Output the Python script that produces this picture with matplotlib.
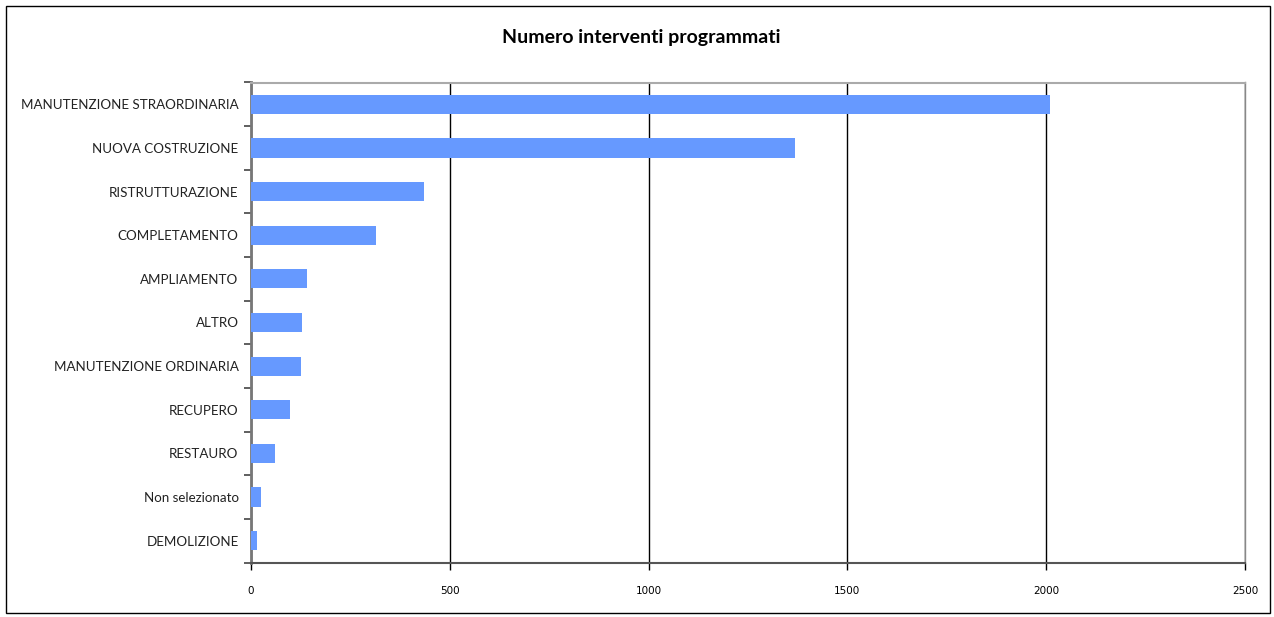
import matplotlib.pyplot as plt
import matplotlib

matplotlib.rcParams['font.family'] = ['Lato', 'DejaVu Sans']

categorie = [
    "MANUTENZIONE STRAORDINARIA",
    "NUOVA COSTRUZIONE",
    "RISTRUTTURAZIONE",
    "COMPLETAMENTO",
    "AMPLIAMENTO",
    "ALTRO",
    "MANUTENZIONE ORDINARIA",
    "RECUPERO",
    "RESTAURO",
    "Non selezionato",
    "DEMOLIZIONE",
]
interventi = [2010, 1368, 436, 314, 142, 129, 127, 98, 60, 25, 15]
x_ticks = [0, 500, 1000, 1500, 2000, 2500]

fig = plt.figure(figsize=(12.74, 6.17), dpi=100)
ax = fig.add_axes([251 / 1274, 1 - 562.5 / 617, 994 / 1274, 480 / 617])

# cornice esterna del grafico
fig.add_artist(plt.Rectangle((5.5 / 1274, 4.5 / 617), 1264 / 1274, 607 / 617,
                             transform=fig.transFigure, fill=False,
                             edgecolor='black', linewidth=1))

pos = list(range(len(categorie)))
ax.barh(pos, interventi, height=0.44, color='#6699FF', zorder=3)
ax.set_ylim(len(categorie) - 0.5, -0.5)
ax.set_xlim(0, 2500)

ax.set_xticks(x_ticks)
ax.set_xticklabels([str(v) for v in x_ticks], fontsize=7.5, family='DejaVu Sans')
ax.tick_params(axis='x', length=5, width=1, color='black', pad=12)
ax.grid(axis='x', color='black', linewidth=1, zorder=1)

# tacche sulle separazioni tra categorie, etichette al centro
ax.set_yticks([p - 0.5 for p in pos] + [len(categorie) - 0.5])
ax.set_yticklabels([])
ax.set_yticks(pos, minor=True)
ax.set_yticklabels(categorie, minor=True, fontsize=9.6, color='#222222')
ax.tick_params(axis='y', which='major', length=5, width=1.2, color='#444444')
ax.tick_params(axis='y', which='minor', length=0, pad=9)

ax.spines['left'].set_color('#777777')
ax.spines['left'].set_linewidth(2)
ax.spines['bottom'].set_color('#555555')
ax.spines['bottom'].set_linewidth(1.5)
ax.spines['top'].set_color('#aaaaaa')
ax.spines['top'].set_linewidth(1.5)
ax.spines['right'].set_color('#888888')
ax.spines['right'].set_linewidth(1)

fig.text(641 / 1274, 1 - 38 / 617, "Numero interventi programmati",
         ha='center', va='center', fontsize=14, fontweight='bold')

fig.savefig('out.png', dpi=100)
